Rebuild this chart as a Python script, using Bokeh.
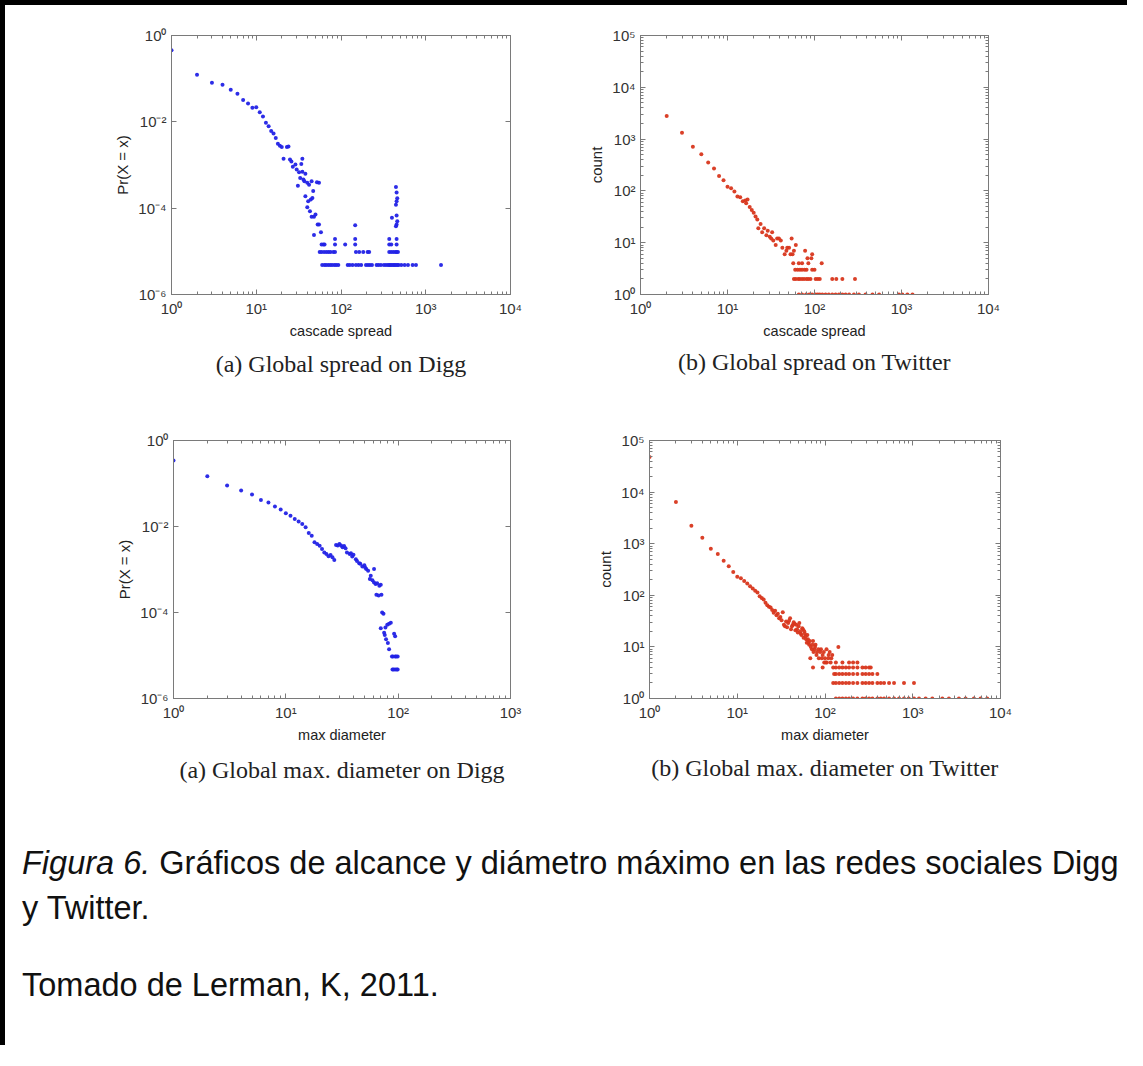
from bokeh.plotting import figure
from bokeh.models import (FixedTicker, CustomJSTickFormatter, LogAxis, Title, Div,
                          Range1d, ColumnDataSource, Spacer)
from bokeh.layouts import row, column
from bokeh.embed import file_html
from bokeh.resources import INLINE

# ---------------- data ----------------
# (a) Global spread on Digg : Pr(X = x) vs cascade spread
digg_spread_x = [1, 2, 3, 4, 5, 6, 7, 8, 9, 10,
                 11, 12, 13, 14, 15, 16, 17, 18, 19, 20,
                 21, 23, 24, 25, 26, 27, 29, 30, 31, 32,
                 33, 34, 35, 35, 36, 37, 38, 38, 40, 40,
                 41, 42, 43, 44, 45, 45, 46, 47, 48, 48,
                 50, 52, 53, 55, 55, 58, 147, 399, 445, 453,
                 461, 453, 445, 453, 461, 453, 445]
digg_spread_y = [0.457, 0.123, 0.080, 0.072, 0.055, 0.0446, 0.032, 0.0266, 0.0211, 0.0219,
                 0.0167, 0.0133, 0.0095, 0.0079, 0.0061, 0.0054, 0.0042, 0.0031, 0.0028, 0.0026,
                 0.0014, 0.0026, 0.0027, 0.00134, 0.0012, 0.00091, 0.00103, 0.00079, 0.00033, 0.00068,
                 0.0005, 0.00106, 0.0014, 0.0007, 0.00046, 0.00042, 0.00063, 0.00019, 0.00039, 0.000105,
                 0.000145, 0.00035, 0.000085, 0.000158, 0.00042, 0.000063, 0.000173, 0.00025, 0.000063, 0.000024,
                 0.0000713, 0.0004, 0.0000417, 0.00039, 0.0000417, 0.0000276, 0.00004, 0.00006, 0.00031, 0.00023,
                 0.00017, 0.000145, 0.00012, 0.000068, 0.00005, 0.000042, 0.000038]
digg_spread_levels = [4.8e-6, 9.6e-6, 1.44e-5, 1.92e-5]
digg_spread_level_x = [
    [60, 64, 67, 71, 75, 79, 84, 88, 93, 120, 127, 137, 150, 161, 173, 197, 208, 219, 232,
     263, 278, 296, 321, 339, 358, 371, 385, 399, 414, 429, 445, 461, 479, 515, 563, 617, 700, 767, 1514],
    [56, 59, 63, 67, 71, 75, 81, 85, 150, 164, 183, 206, 215, 371, 392, 414, 437, 453, 470],
    [59, 62, 64, 85, 112, 147, 371, 392, 453],
    [85, 147, 371, 453],
]

# (b) Global spread on Twitter : count vs cascade spread
twitter_spread_x = [2, 3, 4, 5, 6, 7, 8, 9, 10, 11,
                    12, 13, 14, 15, 16, 16.4, 17, 18, 19, 20,
                    21, 22, 22.6, 24, 25, 26.4, 28, 29, 30.6, 31.8,
                    32.6, 33.6, 35.8, 37.2, 39, 41, 42.7, 45.4, 47.5, 48.6,
                    51, 53, 54.6, 56, 58, 78, 94, 83, 92, 61]
twitter_spread_y = [2790, 1320, 710, 510, 355, 270, 194, 160, 120, 113,
                    97, 78, 75, 63, 65, 58, 68, 49, 43, 38,
                    32, 28, 19, 23, 16, 19, 14, 17, 13, 12,
                    16, 11, 9, 12, 12, 11, 8, 6, 7, 8,
                    8, 6, 12, 6, 7, 7, 6, 5, 5, 9]
twitter_spread_levels = [1, 2, 3, 4]
twitter_spread_level_x = [
    [66, 72, 80, 87, 94, 103, 109, 115, 123, 134, 146, 160, 175, 191, 209, 228, 250, 284,
     324, 386, 464, 553, 934, 1022, 1169, 1338],
    [58, 61, 65, 68, 72, 76, 81, 85, 90, 103, 109, 115, 160, 178, 209, 292],
    [60, 64, 68, 72, 77, 81, 94, 100],
    [57, 66, 72, 85, 121],
]

# (a) Global max. diameter on Digg : Pr(X = x) vs max diameter
digg_diam_x = [1, 2, 3, 4, 5, 6, 7, 8, 9, 10,
               11, 12, 13, 14, 15, 16, 17, 18, 19, 20,
               21, 22, 23, 24, 25, 26, 27, 28, 29, 30,
               31, 32, 33, 34, 35, 37, 38, 39, 40, 42,
               43, 45, 46, 48, 50, 51, 52, 54, 57, 56,
               59, 61, 61, 63, 65, 68, 70, 64, 67, 71,
               72, 74, 70, 75, 77, 80, 83, 86, 76, 78,
               81, 83, 92, 94]
digg_diam_y = [0.342, 0.148, 0.0895, 0.0685, 0.0552, 0.0415, 0.036, 0.029, 0.0247, 0.0203,
               0.0179, 0.015, 0.0131, 0.0115, 0.0096, 0.0071, 0.0061, 0.00428, 0.0039, 0.00358,
               0.003, 0.0025, 0.0023, 0.00202, 0.00217, 0.00192, 0.00166, 0.0037, 0.0036, 0.0039,
               0.0036, 0.0033, 0.0035, 0.0031, 0.0025, 0.0023, 0.0024, 0.002, 0.0022, 0.00172,
               0.00158, 0.0014, 0.00136, 0.00118, 0.00126, 0.0011, 0.00103, 0.00094, 0.00072, 0.0006,
               0.00056, 0.00103, 0.0005, 0.00046, 0.00048, 0.00042, 0.00044, 0.00026, 0.00025, 0.00026,
               0.0001, 0.000094, 0.000043, 0.000034, 0.000045, 0.000052, 0.000055, 0.000058, 0.00003, 0.000024,
               0.0000195, 0.000014, 0.000032, 0.000028]
digg_diam_levels = [4.7e-6, 9.5e-6]
digg_diam_level_x = [
    [89, 91, 94, 97, 99],
    [88, 90, 94, 96, 99],
]

# (b) Global max. diameter on Twitter : count vs max diameter
twitter_diam_x = [1, 2, 3, 4, 5, 6, 7, 8, 9, 10,
                  11, 12, 13, 14, 15, 16, 17, 18, 19, 20,
                  21, 22, 23, 24, 25, 26, 27, 28, 29, 30,
                  31, 32, 33, 34, 36, 37, 38, 40, 41, 43,
                  44, 46, 47, 49, 51, 53, 55, 57, 58, 60,
                  62, 64, 66, 68, 71, 73, 76, 78, 81, 84,
                  88, 90, 94, 97, 100, 104, 109, 113, 118, 121,
                  142, 35, 39, 42, 45, 48, 50, 52, 54, 56,
                  59, 61, 63, 65, 67, 69, 72, 74, 77, 80,
                  85, 92, 98, 105, 110]
twitter_diam_y = [48000, 6450, 2240, 1310, 796, 630, 468, 366, 284, 230,
                  215, 189, 169, 150, 136, 122, 113, 96, 89, 83,
                  72, 64, 60, 58, 52, 46, 50, 41, 44, 36,
                  38, 33, 47, 27, 31, 24, 29, 36, 22, 27,
                  30, 21, 27, 19, 29, 18, 23, 15, 20, 16,
                  12, 14, 11, 6, 9, 13, 9, 11, 8, 9,
                  8, 9, 7, 8, 6, 9, 6, 8, 6, 7,
                  10, 25, 32, 25, 28, 22, 25, 20, 17, 22,
                  18, 14, 17, 12, 13, 10, 11, 8, 10, 7,
                  6, 6, 5, 5, 7]
twitter_diam_levels = [1, 2, 3, 4, 5]
twitter_diam_level_x = [
    [133, 145, 158, 173, 188, 209, 234, 267, 291, 318, 347, 395, 432, 471, 537, 612, 698, 795,
     900, 1033, 1178, 1403, 1671, 2173, 2585, 3358, 4000, 4977, 5930, 7050],
    [124, 133, 145, 158, 173, 188, 209, 234, 267, 291, 318, 347, 395, 432, 471, 537, 612, 795, 1033],
    [127, 133, 145, 158, 173, 188, 209, 234, 267, 291, 318, 347, 395],
    [73, 94, 124, 133, 145, 158, 173, 188, 209, 234, 267, 291, 318, 332],
    [102, 116, 133, 158, 188, 209, 234],
]

# tick positions
decades_4 = [1, 10, 100, 1000, 10000]
decades_3 = [1, 10, 100, 1000]
pr_ticks = [1e-6, 1e-4, 1e-2, 1]
count_ticks = [1, 10, 100, 1000, 10000, 100000]

captions = ["(a) Global spread on Digg", "(b) Global spread on Twitter",
            "(a) Global max. diameter on Digg", "(b) Global max. diameter on Twitter"]

# ---------------- styling helpers ----------------
AX = "#7a7a7a"
TXT = "#333333"
BLUE = "#2222e6"
RED = "#d8361c"

SUP = CustomJSTickFormatter(code="""
const e = Math.round(Math.log10(tick));
const m = {"-": "\u207b", "0": "\u2070", "1": "\u00b9", "2": "\u00b2", "3": "\u00b3",
           "4": "\u2074", "5": "\u2075", "6": "\u2076", "7": "\u2077", "8": "\u2078", "9": "\u2079"};
return "10" + String(e).split("").map(c => m[c]).join("");
""")
BLANK = CustomJSTickFormatter(code="return '';")


def minor_for(decs):
    out = []
    for d in decs[:-1]:
        out += [d * k for k in range(2, 10)]
    return out


def style_axis(ax, ticks, minors, labels=True, label_size="15px"):
    ax.ticker = FixedTicker(ticks=ticks, minor_ticks=minors)
    ax.formatter = SUP if labels else BLANK
    ax.major_tick_in = 5
    ax.major_tick_out = 0
    ax.minor_tick_in = 3
    ax.minor_tick_out = 0
    ax.axis_line_color = AX
    ax.major_tick_line_color = AX
    ax.minor_tick_line_color = AX
    ax.major_label_text_font = "Liberation Sans"
    ax.major_label_text_font_size = label_size if labels else "0px"
    ax.major_label_text_color = TXT
    ax.major_label_standoff = 5
    ax.axis_label_text_font = "Liberation Sans"
    ax.axis_label_text_font_style = "normal"
    ax.axis_label_text_color = "#222222"


def make_plot(w, h, bl, br, bt, bb, xr, yr, xticks, yticks, yminor,
              xlabel, ylabel, caption, cap_offset, cap_standoff,
              xs, ys, level_vals, level_xs, color):
    p = figure(width=w, height=h, x_axis_type="log", y_axis_type="log",
               x_range=Range1d(*xr), y_range=Range1d(*yr),
               output_backend="svg", toolbar_location=None,
               min_border_left=bl, min_border_right=br,
               min_border_top=bt, min_border_bottom=bb)
    p.xgrid.visible = False
    p.ygrid.visible = False
    p.outline_line_color = AX
    p.background_fill_color = "white"
    p.border_fill_color = "white"

    xminor = minor_for(xticks)
    style_axis(p.xaxis[0], xticks, xminor)
    style_axis(p.yaxis[0], yticks, yminor)
    p.xaxis[0].axis_label = xlabel
    p.xaxis[0].axis_label_text_font_size = "14.5px"
    p.xaxis[0].axis_label_standoff = 3
    p.yaxis[0].axis_label = ylabel
    p.yaxis[0].axis_label_text_font_size = "15px"
    p.yaxis[0].axis_label_standoff = 4

    top = LogAxis()
    style_axis(top, xticks, xminor, labels=False)
    p.add_layout(top, "above")
    right = LogAxis()
    style_axis(right, yticks, yminor, labels=False)
    p.add_layout(right, "right")

    p.add_layout(Title(text=caption, align="center", text_font="Liberation Serif",
                       text_font_size="24px", text_font_style="normal",
                       text_color="#222222", offset=cap_offset, standoff=cap_standoff), "below")

    all_x = list(xs)
    all_y = list(ys)
    for lv, lx in zip(level_vals, level_xs):
        all_x += lx
        all_y += [lv] * len(lx)
    src = ColumnDataSource(dict(x=all_x, y=all_y))
    p.scatter("x", "y", source=src, size=4, color=color, line_color=None, fill_alpha=0.95)
    return p


count_minor = minor_for(count_ticks)

p1 = make_plot(570, 410, 166, 65, 30, 121, (1, 1e4), (1e-6, 1), decades_4, pr_ticks, [],
               "cascade spread", "Pr(X = x)", captions[0], -18, 14,
               digg_spread_x, digg_spread_y, digg_spread_levels, digg_spread_level_x, BLUE)
p2 = make_plot(552, 410, 65, 139, 29, 115, (1, 1e4), (1, 1e5), decades_4, count_ticks, count_minor,
               "cascade spread", "count", captions[1], -10, 11,
               twitter_spread_x, twitter_spread_y, twitter_spread_levels, twitter_spread_level_x, RED)
p3 = make_plot(577, 426, 168, 72, 25, 143, (1, 1e3), (1e-6, 1), decades_3, pr_ticks, [],
               "max diameter", "Pr(X = x)", captions[2], -18, 18,
               digg_diam_x, digg_diam_y, digg_diam_levels, digg_diam_level_x, BLUE)
p4 = make_plot(545, 426, 67, 127, 23, 131, (1, 1e4), (1, 1e5), decades_4, count_ticks, count_minor,
               "max diameter", "count", captions[3], -8, 15,
               twitter_diam_x, twitter_diam_y, twitter_diam_levels, twitter_diam_level_x, RED)

TEXT_STYLE = ("font-family:'Liberation Sans',Arial,sans-serif;font-size:32.5px;"
              "line-height:45px;color:#111;white-space:nowrap;")
cap_div = Div(text=f'<div style="{TEXT_STYLE}"><i>Figura 6.</i> Gráficos de alcance y diámetro máximo '
                   f'en las redes sociales Digg<br>y Twitter.</div>',
              width=1100, height=90, margin=(0, 0, 0, 17))
src_div = Div(text=f'<div style="{TEXT_STYLE}">Tomado de Lerman, K, 2011.</div>',
              width=1100, height=45, margin=(32, 0, 0, 17))
bottom_pad = Spacer(width=10, height=37)

layout = column(row(p1, p2), row(p3, p4), cap_div, src_div, bottom_pad,
                styles={"border-top": "5px solid black", "border-left": "5px solid black"})

open("out.html", "w").write(file_html(layout, INLINE))
